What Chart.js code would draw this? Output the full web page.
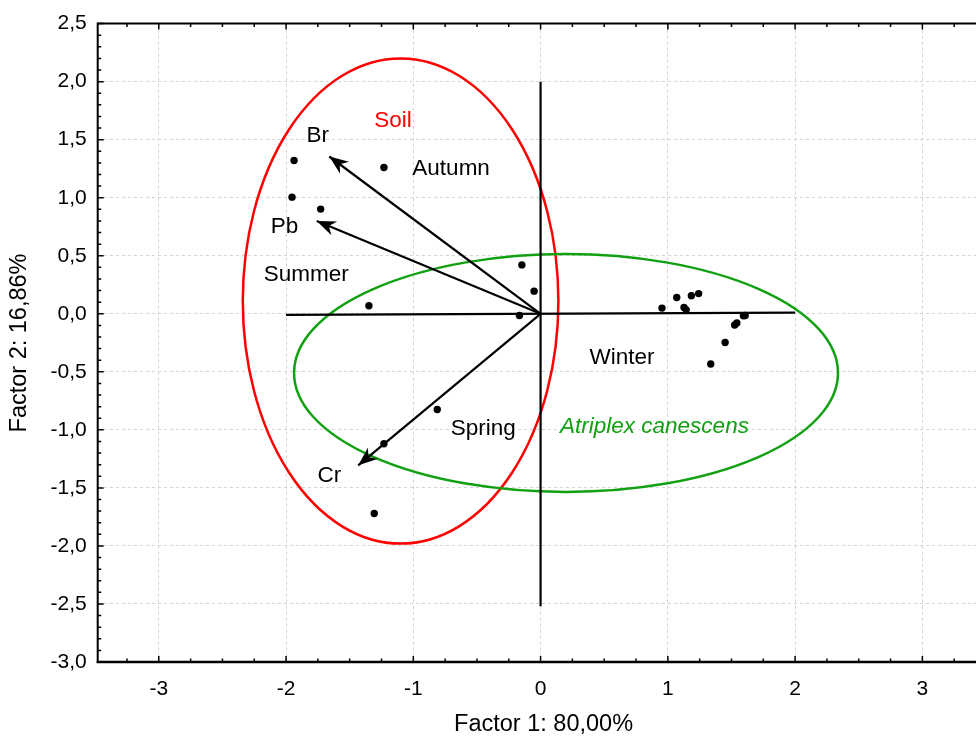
<!DOCTYPE html>
<html>
<head>
<meta charset="utf-8">
<script src="https://cdn.jsdelivr.net/npm/chart.js@4.4.0/dist/chart.umd.min.js"></script>
<style>
  html, body { margin: 0; padding: 0; background: #fff; overflow: hidden; }
  #wrap { width: 990px; height: 737px; }
</style>
</head>
<body>
<div id="wrap"><canvas id="c" width="990" height="737"></canvas></div>
<script>
// ---- data ----
const xTickValues = [-3, -2, -1, 0, 1, 2, 3];
const yTickValues = [-3.0, -2.5, -2.0, -1.5, -1.0, -0.5, 0.0, 0.5, 1.0, 1.5, 2.0, 2.5];

const scoreX = [-1.937, -1.953, -1.728, -1.231, -1.349, -0.147, -0.051, -0.166, -0.812, -1.231, -1.307,
                0.954, 1.070, 1.127, 1.144, 1.185, 1.242, 1.337, 1.450, 1.525, 1.542, 1.594, 1.608];
const scoreY = [1.320, 1.005, 0.902, 1.260, 0.069, 0.421, 0.195, -0.015, -0.825, -1.120, -1.721,
                0.049, 0.140, 0.054, 0.034, 0.155, 0.174, -0.432, -0.247, -0.097, -0.080, -0.017, -0.015];

const vectorNames = ['Br', 'Pb', 'Cr'];
const vectorX = [-1.660, -1.759, -1.433];
const vectorY = [1.355, 0.799, -1.306];

const hLineX = [-2.0, 2.0];
const hLineY = [-0.01, 0.01];
const vLineX = [0, 0];
const vLineY = [2.0, -2.52];

const ellipseNames = ['Soil', 'Atriplex canescens'];
const ellipseCX = [-1.10, 0.20];
const ellipseCY = [0.11, -0.51];
const ellipseRX = [1.24, 2.137];
const ellipseRY = [2.09, 1.025];
const ellipseColors = ['#ff0000', '#11a011'];

const labelText = ['Soil', 'Br', 'Autumn', 'Pb', 'Summer', 'Winter', 'Spring', 'Atriplex canescens', 'Cr'];
const labelX = [-1.16, -1.750, -0.703, -2.013, -1.841, 0.640, -0.451, 0.895, -1.660];
const labelY = [1.666, 1.537, 1.245, 0.747, 0.334, -0.379, -0.99, -0.972, -1.40];
const labelColor = ['#ff0000', '#000', '#000', '#000', '#000', '#000', '#000', '#11a011', '#000'];
const labelItalic = [false, false, false, false, false, false, false, true, false];

const xTitle = 'Factor 1: 80,00%';
const yTitle = 'Factor 2: 16,86%';

const FONT = '"Liberation Sans", Arial, Helvetica, sans-serif';

// ---- datasets ----
const datasets = [];
datasets.push({
  label: 'scores',
  data: scoreX.map((x, i) => ({ x, y: scoreY[i] })),
  showLine: false,
  pointRadius: 3.7,
  pointBackgroundColor: '#000',
  pointBorderWidth: 0,
  borderColor: '#000'
});
vectorNames.forEach((n, i) => {
  datasets.push({
    label: n,
    data: [{ x: 0, y: 0 }, { x: vectorX[i], y: vectorY[i] }],
    showLine: true, pointRadius: 0, borderColor: '#000', borderWidth: 2.2
  });
});
datasets.push({
  label: 'hline',
  data: hLineX.map((x, i) => ({ x, y: hLineY[i] })),
  showLine: true, pointRadius: 0, borderColor: '#000', borderWidth: 2.2
});
datasets.push({
  label: 'vline',
  data: vLineX.map((x, i) => ({ x, y: vLineY[i] })),
  showLine: true, pointRadius: 0, borderColor: '#000', borderWidth: 2.2
});

// ---- custom drawing plugin ----
const decor = {
  id: 'decor',
  beforeDatasetsDraw(chart) {
    const { ctx, scales: { x, y } } = chart;
    ctx.save();
    ellipseCX.forEach((cx, i) => {
      const px = x.getPixelForValue(cx), py = y.getPixelForValue(ellipseCY[i]);
      const rx = Math.abs(x.getPixelForValue(cx + ellipseRX[i]) - px);
      const ry = Math.abs(y.getPixelForValue(ellipseCY[i] + ellipseRY[i]) - py);
      ctx.beginPath();
      ctx.ellipse(px, py, rx, ry, 0, 0, Math.PI * 2);
      ctx.strokeStyle = ellipseColors[i];
      ctx.lineWidth = 2.5;
      ctx.stroke();
    });
    ctx.restore();
  },
  afterDatasetsDraw(chart) {
    const { ctx, chartArea: a, scales: { x, y } } = chart;
    ctx.save();
    // arrowheads
    vectorNames.forEach((n, i) => {
      const x0 = x.getPixelForValue(0), y0 = y.getPixelForValue(0);
      const x1 = x.getPixelForValue(vectorX[i]), y1 = y.getPixelForValue(vectorY[i]);
      const ang = Math.atan2(y1 - y0, x1 - x0);
      const L = 19, W = 7.5, N = 13;
      const dx = Math.cos(ang), dy = Math.sin(ang);
      const px = -dy, py = dx;
      ctx.beginPath();
      ctx.moveTo(x1, y1);
      ctx.lineTo(x1 - L * dx + W * px, y1 - L * dy + W * py);
      ctx.lineTo(x1 - N * dx, y1 - N * dy);
      ctx.lineTo(x1 - L * dx - W * px, y1 - L * dy - W * py);
      ctx.closePath();
      ctx.fillStyle = '#000';
      ctx.fill();
    });
    // labels
    ctx.textAlign = 'center';
    ctx.textBaseline = 'middle';
    labelText.forEach((t, i) => {
      ctx.font = (labelItalic[i] ? 'italic ' : '') + '22.5px ' + FONT;
      ctx.fillStyle = labelColor[i];
      ctx.fillText(t, x.getPixelForValue(labelX[i]), y.getPixelForValue(labelY[i]));
    });
    // frame
    ctx.strokeStyle = '#000';
    ctx.lineWidth = 2;
    ctx.beginPath();
    ctx.moveTo(a.left, a.top); ctx.lineTo(a.right, a.top);
    ctx.moveTo(a.left, a.top - 1); ctx.lineTo(a.left, a.bottom + 1);
    ctx.moveTo(a.right, a.top); ctx.lineTo(a.right, a.bottom);
    ctx.stroke();
    ctx.lineWidth = 2.5;
    ctx.beginPath();
    ctx.moveTo(a.left - 1, a.bottom); ctx.lineTo(a.right, a.bottom);
    ctx.stroke();
    // tick marks (inside)
    ctx.lineWidth = 1.5;
    ctx.beginPath();
    for (let k = Math.ceil(x.min * 4); k <= Math.floor(x.max * 4); k++) {
      const v = k / 4;
      const major = k % 4 === 0;
      const len = major ? 6 : 3.5;
      const p = x.getPixelForValue(v);
      ctx.moveTo(p, a.bottom); ctx.lineTo(p, a.bottom - len);
      ctx.moveTo(p, a.top); ctx.lineTo(p, a.top + len);
    }
    for (let k = Math.ceil(y.min * 10 - 1e-6); k <= Math.floor(y.max * 10 + 1e-6); k++) {
      const v = k / 10;
      const major = k % 5 === 0;
      const len = major ? 6 : 3.5;
      const p = y.getPixelForValue(v);
      ctx.moveTo(a.left, p); ctx.lineTo(a.left + len, p);
      ctx.moveTo(a.right, p); ctx.lineTo(a.right - len, p);
    }
    ctx.stroke();
    // axis titles
    ctx.fillStyle = '#000';
    ctx.font = '23.5px ' + FONT;
    ctx.textAlign = 'center';
    ctx.textBaseline = 'middle';
    ctx.fillText(xTitle, x.getPixelForValue(0) + 3, 725);
    ctx.translate(20, 343);
    ctx.rotate(-Math.PI / 2);
    ctx.fillText(yTitle, 0, 0);
    ctx.restore();
  }
};

new Chart(document.getElementById('c'), {
  type: 'scatter',
  data: { datasets },
  plugins: [decor],
  options: {
    responsive: false,
    animation: false,
    devicePixelRatio: 1,
    layout: { padding: { top: 22, right: 3, left: 0, bottom: 0 } },
    plugins: { legend: { display: false }, tooltip: { enabled: false } },
    scales: {
      x: {
        type: 'linear', min: -3.48, max: 3.5,
        afterBuildTicks: (s) => { s.ticks = xTickValues.map(v => ({ value: v })); },
        afterFit: (s) => { s.height = 75; },
        ticks: {
          callback: (v) => String(v).replace('.', ','),
          font: { size: 21, family: FONT }, color: '#000', padding: 15,
          maxRotation: 0, autoSkip: false
        },
        grid: { color: '#d4d4d4', lineWidth: 1, drawTicks: false },
        border: { display: false, dash: [3, 3] }
      },
      y: {
        type: 'linear', min: -3.0, max: 2.5,
        afterBuildTicks: (s) => { s.ticks = yTickValues.map(v => ({ value: v })); },
        afterFit: (s) => { s.width = 97.7; },
        ticks: {
          callback: (v) => Number(v).toFixed(1).replace('.', ','),
          font: { size: 21, family: FONT }, color: '#000', padding: 11,
          autoSkip: false
        },
        grid: { color: '#d4d4d4', lineWidth: 1, drawTicks: false },
        border: { display: false, dash: [3, 3] }
      }
    }
  }
});
</script>
</body>
</html>
